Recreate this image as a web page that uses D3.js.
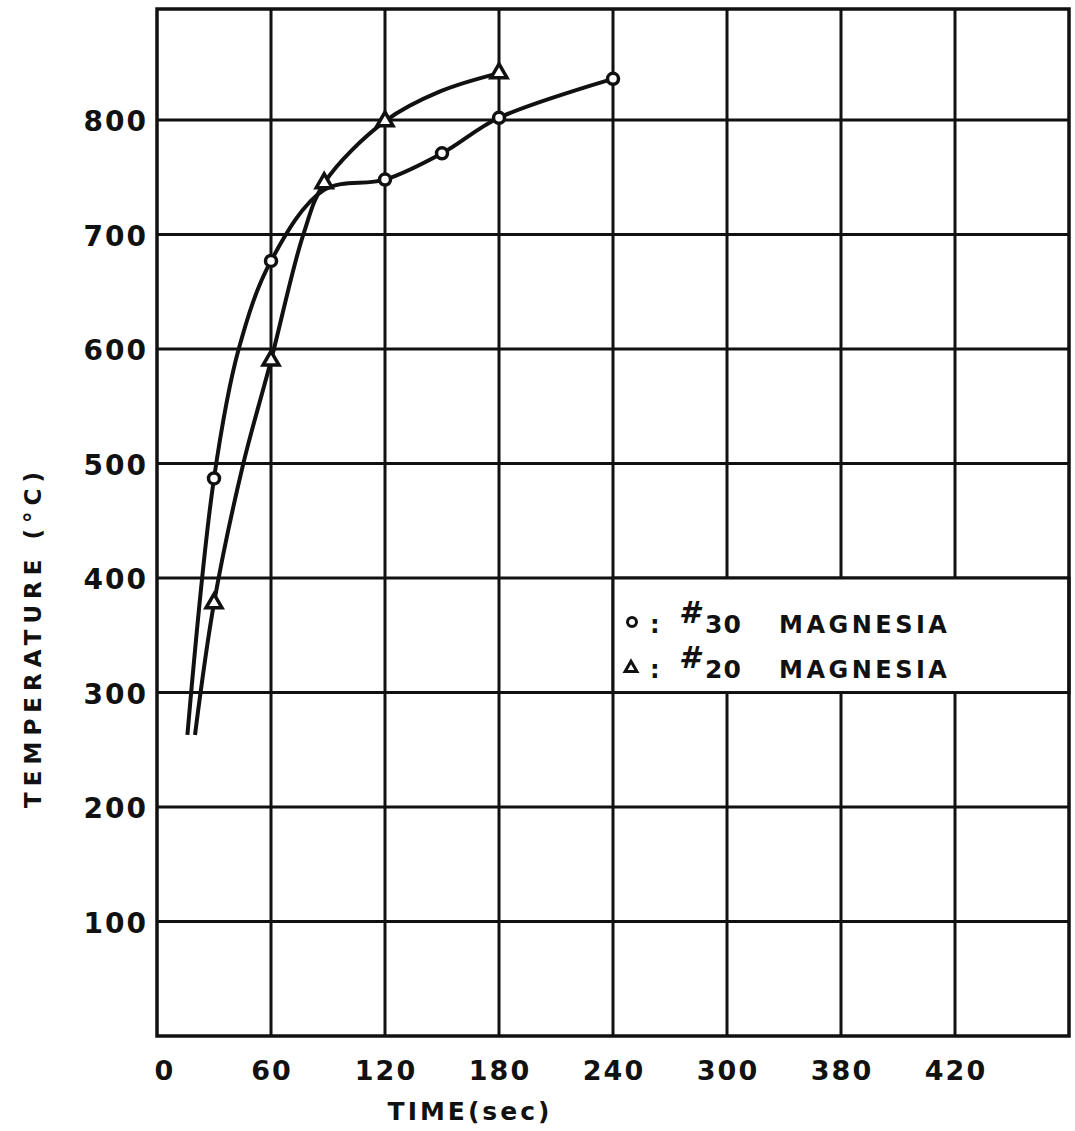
<!DOCTYPE html>
<html>
<head>
<meta charset="utf-8">
<script src="https://cdn.jsdelivr.net/npm/d3@7"></script>
<style>
  body { margin: 0; background: #fff; }
  text { font-family: "DejaVu Sans", sans-serif; font-weight: bold; fill: #111; }
</style>
</head>
<body>
<svg id="chart" width="1075" height="1131"></svg>
<script>
// axis ticks as printed (the 360 line is labelled "380" in the original)
var xTicks = [0, 60, 120, 180, 240, 300, 360, 420, 480];
var xTickLabels = ["0", "60", "120", "180", "240", "300", "380", "420", ""];
var yTicks = [100, 200, 300, 400, 500, 600, 700, 800];

// #30 magnesia (circles)
var mg30Time = [30, 60, 120, 150, 180, 240];
var mg30Temp = [487, 677, 748, 771, 802, 836];
// points read along the drawn #30 curve
var mg30CurveTime = [16, 30, 43, 60, 88, 120, 150, 180, 240];
var mg30CurveTemp = [263, 487, 600, 677, 739, 748, 771, 802, 836];

// #20 magnesia (triangles)
var mg20Time = [30, 60, 88, 120, 180];
var mg20Temp = [378, 590, 745, 799, 841];
// points read along the drawn #20 curve
var mg20CurveTime = [20, 30, 45, 60, 77, 88, 120, 149, 180];
var mg20CurveTemp = [263, 378, 497, 590, 700, 745, 799, 825, 841];

var svg = d3.select("#chart");
var ink = "#111";

var x = d3.scaleLinear().domain([0, 480]).range([157, 1069]);
var y = d3.scaleLinear().domain([0, 897]).range([1036, 9]);

var g = svg.append("g");

// grid
g.selectAll("line.vgrid")
    .data(xTicks.slice(1, -1))
    .enter().append("line")
    .attr("class", "vgrid")
    .attr("x1", function (d) { return x(d); })
    .attr("x2", function (d) { return x(d); })
    .attr("y1", y(0)).attr("y2", y(897))
    .attr("stroke", ink).attr("stroke-width", 3);

g.selectAll("line.hgrid")
    .data(yTicks)
    .enter().append("line")
    .attr("class", "hgrid")
    .attr("x1", x(0)).attr("x2", x(480))
    .attr("y1", function (d) { return y(d); })
    .attr("y2", function (d) { return y(d); })
    .attr("stroke", ink).attr("stroke-width", 3);

// legend cell (covers the inner grid between 300 and 400)
var legend = g.append("g");
legend.append("rect")
    .attr("x", x(240)).attr("y", y(400))
    .attr("width", x(480) - x(240)).attr("height", y(300) - y(400))
    .attr("fill", "#fff").attr("stroke", ink).attr("stroke-width", 3);

// frame
g.append("rect")
    .attr("x", x(0)).attr("y", y(897))
    .attr("width", x(480) - x(0)).attr("height", y(0) - y(897))
    .attr("fill", "none").attr("stroke", ink).attr("stroke-width", 3.5);

// tick labels
g.selectAll("text.xlab")
    .data(xTicks)
    .enter().append("text")
    .attr("class", "xlab")
    .attr("x", function (d, i) { return i == 0 ? x(d) + 8 : x(d) + 1; })
    .attr("y", 1080)
    .attr("text-anchor", "middle")
    .attr("font-size", 27)
    .attr("letter-spacing", 2)
    .text(function (d, i) { return xTickLabels[i]; });

g.selectAll("text.ylab")
    .data(yTicks)
    .enter().append("text")
    .attr("class", "ylab")
    .attr("x", 148)
    .attr("y", function (d) { return y(d) + 11; })
    .attr("text-anchor", "end")
    .attr("font-size", 28)
    .attr("letter-spacing", 2)
    .text(function (d) { return d; });

// axis titles
g.append("text")
    .attr("transform", "translate(41,637) rotate(-90)")
    .attr("text-anchor", "middle")
    .attr("font-size", 23)
    .attr("letter-spacing", 6)
    .text("TEMPERATURE (°C)");

g.append("text")
    .attr("x", 470).attr("y", 1120)
    .attr("text-anchor", "middle")
    .attr("font-size", 25)
    .attr("letter-spacing", 3)
    .text("TIME(sec)");

// curves
var line = d3.line()
    .x(function (d) { return x(d[0]); })
    .y(function (d) { return y(d[1]); })
    .curve(d3.curveCatmullRom.alpha(0.5));

g.append("path")
    .datum(d3.zip(mg30CurveTime, mg30CurveTemp))
    .attr("d", line)
    .attr("fill", "none").attr("stroke", ink).attr("stroke-width", 4);

g.append("path")
    .datum(d3.zip(mg20CurveTime, mg20CurveTemp))
    .attr("d", line)
    .attr("fill", "none").attr("stroke", ink).attr("stroke-width", 4);

// markers
g.selectAll("circle.mg30")
    .data(d3.zip(mg30Time, mg30Temp))
    .enter().append("circle")
    .attr("class", "mg30")
    .attr("cx", function (d) { return x(d[0]); })
    .attr("cy", function (d) { return y(d[1]); })
    .attr("r", 5.5)
    .attr("fill", "#fff").attr("stroke", ink).attr("stroke-width", 3.5);

var tri = d3.symbol().type(d3.symbolTriangle).size(110);
g.selectAll("path.mg20")
    .data(d3.zip(mg20Time, mg20Temp))
    .enter().append("path")
    .attr("class", "mg20")
    .attr("transform", function (d) { return "translate(" + x(d[0]) + "," + y(d[1]) + ")"; })
    .attr("d", tri)
    .attr("fill", "#fff").attr("stroke", ink).attr("stroke-width", 3.5);

// legend entries
var rows = [
    {sym: "circle", num: "30", yy: 633},
    {sym: "triangle", num: "20", yy: 678}
];
rows.forEach(function (r) {
    if (r.sym == "circle") {
        legend.append("circle").attr("cx", 632).attr("cy", r.yy - 11).attr("r", 4.5)
            .attr("fill", "#fff").attr("stroke", ink).attr("stroke-width", 3);
    } else {
        legend.append("path")
            .attr("transform", "translate(631," + (r.yy - 10) + ")")
            .attr("d", d3.symbol().type(d3.symbolTriangle).size(60))
            .attr("fill", "#fff").attr("stroke", ink).attr("stroke-width", 3);
    }
    legend.append("text").attr("x", 650).attr("y", r.yy)
        .attr("font-size", 24).text(":");
    legend.append("text").attr("x", 679).attr("y", r.yy - 10)
        .attr("font-size", 30).attr("font-style", "italic").text("#");
    legend.append("text").attr("x", 705).attr("y", r.yy)
        .attr("font-size", 25).attr("letter-spacing", 1).text(r.num);
    legend.append("text").attr("x", 779).attr("y", r.yy)
        .attr("font-size", 24).attr("letter-spacing", 3.5).text("MAGNESIA");
});
</script>
</body>
</html>
